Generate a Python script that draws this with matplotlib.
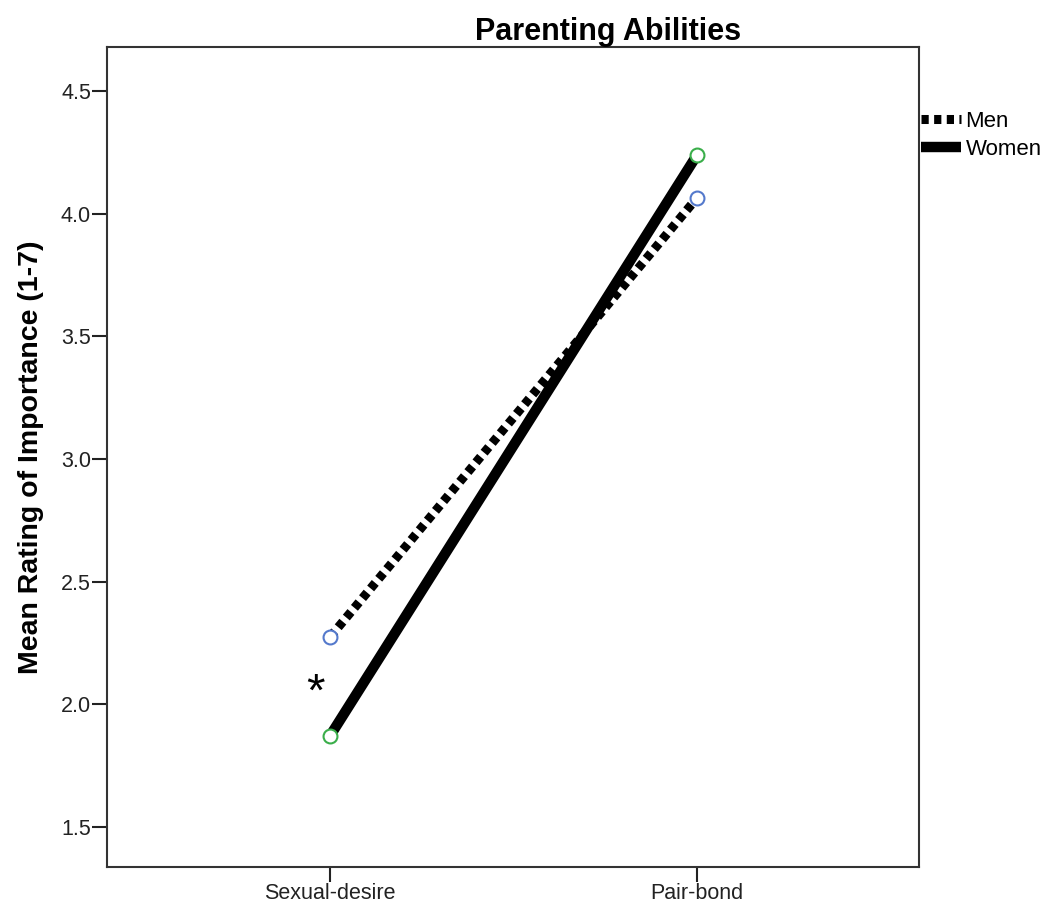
import matplotlib.pyplot as plt

plt.rcParams['font.family'] = ['Liberation Sans', 'DejaVu Sans']

categorias = ["Sexual-desire", "Pair-bond"]
hombres = [2.275, 4.065]
mujeres = [1.872, 4.240]
yticks = [1.5, 2.0, 2.5, 3.0, 3.5, 4.0, 4.5]

fig = plt.figure(figsize=(10.42, 9.09), dpi=100)
ax = fig.add_axes([0.1027, 0.0462, 0.7793, 0.9021])

x = list(range(len(categorias)))

# lineas
l_men, = ax.plot(x, hombres, color="black", lw=6.5, ls=(0, (0.8, 0.6)),
                 solid_capstyle="butt", dash_capstyle="butt", label="Men", zorder=2)
l_women, = ax.plot(x, mujeres, color="black", lw=7.5, solid_capstyle="butt",
                   label="Women", zorder=3)

# marcadores
ax.plot(x, hombres, ls="none", marker="o", ms=10, mfc="white", mec="#5479cc", mew=1.5, zorder=4)
ax.plot(x, mujeres, ls="none", marker="o", ms=10, mfc="white", mec="#3aae4a", mew=1.5, zorder=4)

ax.text(-0.04, 2.045, "*", fontsize=34, ha="center", va="center")

ax.set_xlim(-0.608, 1.605)
ax.set_ylim(1.337, 4.68)
ax.set_xticks(x)
ax.set_xticklabels(categorias, fontsize=15.5)
ax.set_yticks(yticks)
ax.set_yticklabels([f"{v:.1f}" for v in yticks], fontsize=15.5)
ax.tick_params(axis="both", direction="out", length=10.5, width=1.5, colors="#222222", pad=1)
ax.tick_params(axis="both", labelcolor="#222222")
for s in ax.spines.values():
    s.set_linewidth(1.5)
    s.set_color("#333333")

ax.set_ylabel("Mean Rating of Importance (1-7)", fontsize=20.5, weight="bold", labelpad=12)
ax.set_title("Parenting Abilities", fontsize=22, weight="bold", pad=4, x=0.617)

fig.legend(handles=[l_men, l_women], loc="upper left", bbox_to_anchor=(0.884, 0.878),
           frameon=False, fontsize=16, handlelength=1.8, handletextpad=0.2,
           labelspacing=0.32, borderaxespad=0, borderpad=0.0)

fig.savefig("out.png", dpi=100)
